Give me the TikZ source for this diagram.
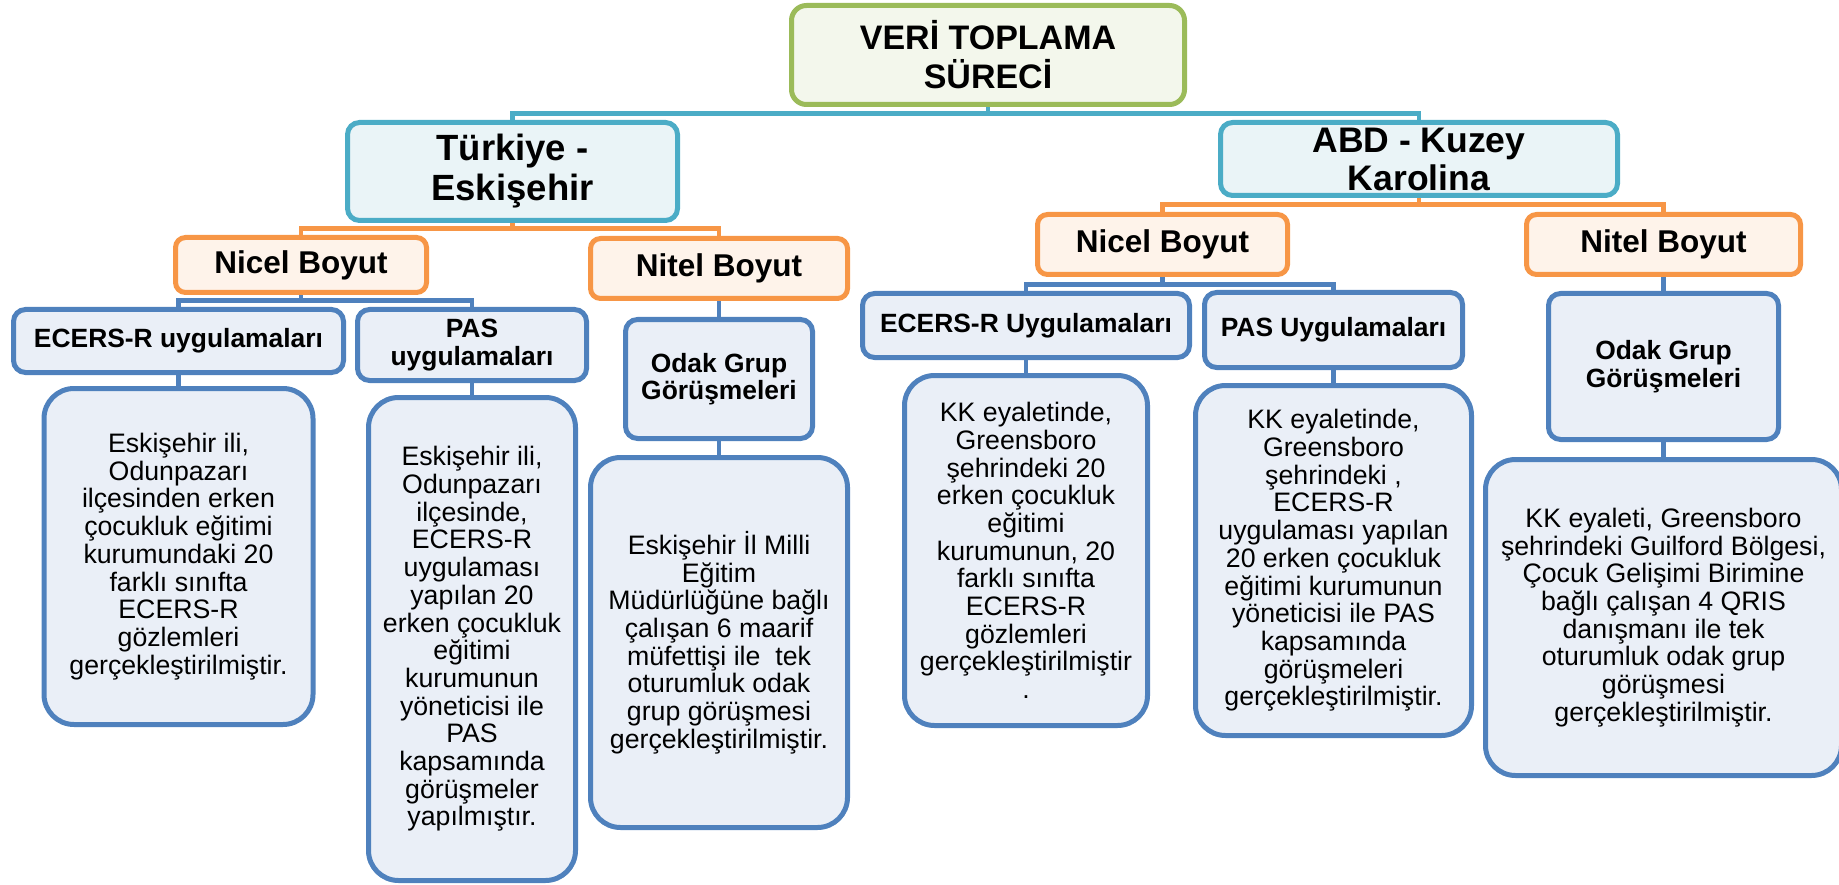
\documentclass[tikz,border=0pt]{standalone}
\usepackage{fontspec}
\setmainfont{Liberation Sans}
\usetikzlibrary{backgrounds}

\definecolor{grnline}{HTML}{9BBB59}
\definecolor{grnfill}{HTML}{F3F7EC}
\definecolor{cyanline}{HTML}{4BACC6}
\definecolor{cyanfill}{HTML}{EAF4F7}
\definecolor{orgline}{HTML}{F79646}
\definecolor{orgfill}{HTML}{FEF3EA}
\definecolor{bluline}{HTML}{4F81BD}
\definecolor{blufill}{HTML}{EAEFF7}

\newcommand{\bodysize}{\fontsize{26.7}{27.7}\selectfont}
\newcommand{\headsize}{\bfseries\fontsize{26.4}{27.5}\selectfont}

\begin{document}
\begin{tikzpicture}[x=1pt, y=-1pt, line width=5pt, inner sep=0pt,
    box/.style={draw, rounded corners=12pt, align=center},
    rootbox/.style={box, rounded corners=15pt, draw=grnline, fill=grnfill, font=\bfseries\fontsize{34}{39}\selectfont},
    landbox/.style={box, draw=cyanline, fill=cyanfill, font=\bfseries\fontsize{36.5}{40}\selectfont},
    dimbox/.style={box, rounded corners=10pt, draw=orgline, fill=orgfill, font=\bfseries\fontsize{31.5}{36}\selectfont},
    toolbox/.style={box, draw=bluline, fill=blufill, font=\headsize},
    textbox/.style={box, rounded corners=30pt, draw=bluline, fill=blufill, font=\bodysize},
    link/.style={line width=4.5pt}]
    \useasboundingbox (0,0) rectangle (1839,885);

    % Root
    \node[rootbox, minimum width=393, minimum height=99] (root) at (988,55) {VERİ TOPLAMA\\SÜRECİ};

    % Countries
    \node[landbox, minimum width=330, minimum height=98] (tr) at (512.5,171.5) {Türkiye -\\Eskişehir};
    \node[landbox, font=\bfseries\fontsize{35.5}{38}\selectfont, minimum width=397, minimum height=73] (us) at (1419,159) {ABD - Kuzey\\Karolina};

    % Dimensions
    \node[dimbox, minimum width=251, minimum height=55] (nicelL) at (301,265) {Nicel Boyut};
    \node[dimbox, minimum width=257, minimum height=60] (nitelL) at (719,268.5) {Nitel Boyut};
    \node[dimbox, minimum width=250, minimum height=60] (nicelR) at (1162.5,244.5) {Nicel Boyut};
    \node[dimbox, minimum width=274, minimum height=60] (nitelR) at (1663.5,244.5) {Nitel Boyut};

    % Tools
    \node[toolbox, minimum width=330, minimum height=63] (ecersL) at (178.5,341) {ECERS-R uygulamaları};
    \node[toolbox, minimum width=229, minimum height=71] (pasL) at (472,345) {PAS\\uygulamaları};
    \node[toolbox, minimum width=187, minimum height=119] (odakL) at (719,379) {Odak Grup\\Görüşmeleri};
    \node[toolbox, minimum width=327, minimum height=64] (ecersR) at (1026,325.5) {ECERS-R Uygulamaları};
    \node[toolbox, minimum width=258, minimum height=75] (pasR) at (1333.5,330) {PAS Uygulamaları};
    \node[toolbox, minimum width=230, minimum height=146] (odakR) at (1663.5,366.5) {Odak Grup\\Görüşmeleri};

    % Descriptions
    \node[textbox, minimum width=269, minimum height=336] (obsL) at (178.5,556.5) {Eskişehir ili,\\Odunpazarı\\ilçesinden erken\\çocukluk eğitimi\\kurumundaki 20\\farklı sınıfta\\ECERS-R\\gözlemleri\\gerçekleştirilmiştir.};
    \node[textbox, minimum width=207, minimum height=483] (intL) at (472,639) {Eskişehir ili,\\Odunpazarı\\ilçesinde,\\ECERS-R\\uygulaması\\yapılan 20\\erken çocukluk\\eğitimi\\kurumunun\\yöneticisi ile\\PAS\\kapsamında\\görüşmeler\\yapılmıştır.};
    \node[textbox, minimum width=257, minimum height=370] (focL) at (719,642.5) {Eskişehir İl Milli\\Eğitim\\Müdürlüğüne bağlı\\çalışan 6 maarif\\müfettişi ile \ tek\\oturumluk odak\\grup görüşmesi\\gerçekleştirilmiştir.};
    \node[textbox, minimum width=243, minimum height=350] (obsR) at (1026,550.5) {KK eyaletinde,\\Greensboro\\şehrindeki 20\\erken çocukluk\\eğitimi\\kurumunun, 20\\farklı sınıfta\\ECERS-R\\gözlemleri\\gerçekleştirilmiştir\\.};
    \node[textbox, minimum width=276, minimum height=350] (intR) at (1333.5,560.5) {KK eyaletinde,\\Greensboro\\şehrindeki ,\\ECERS-R\\uygulaması yapılan\\20 erken çocukluk\\eğitimi kurumunun\\yöneticisi ile PAS\\kapsamında\\görüşmeleri\\gerçekleştirilmiştir.};
    \node[textbox, minimum width=356, minimum height=316] (focR) at (1663.5,617.5) {KK eyaleti, Greensboro\\şehrindeki Guilford Bölgesi,\\Çocuk Gelişimi Birimine\\bağlı çalışan 4 QRIS\\danışmanı ile tek\\oturumluk odak grup\\görüşmesi\\gerçekleştirilmiştir.};

    % Connectors
    \begin{scope}[on background layer]
        \draw[link, cyanline] (root.south) -- ++(0,6.5) -| (tr.north);
        \draw[link, cyanline] (root.south) -- ++(0,6.5) -| (us.north);
        \draw[link, orgline] (tr.south) -- ++(0,5.5) -| (nicelL.north);
        \draw[link, orgline] (tr.south) -- ++(0,5.5) -| (nitelL.north);
        \draw[link, orgline] (us.south) -- ++(0,6.5) -| (nicelR.north);
        \draw[link, orgline] (us.south) -- ++(0,6.5) -| (nitelR.north);
        \draw[link, bluline] (nicelL.south) -- ++(0,5.5) -| (ecersL.north);
        \draw[link, bluline] (nicelL.south) -- ++(0,5.5) -| (pasL.north);
        \draw[link, bluline] (nicelR.south) -- ++(0,7.5) -| (ecersR.north);
        \draw[link, bluline] (nicelR.south) -- ++(0,7.5) -| (pasR.north);
        \draw[link, bluline] (nitelL.south) -- (odakL.north);
        \draw[link, bluline] (nitelR.south) -- (odakR.north);
        \draw[link, bluline] (ecersL.south) -- (obsL.north);
        \draw[link, bluline] (pasL.south) -- (intL.north);
        \draw[link, bluline] (odakL.south) -- (focL.north);
        \draw[link, bluline] (ecersR.south) -- (obsR.north);
        \draw[link, bluline] (pasR.south) -- (intR.north);
        \draw[link, bluline] (odakR.south) -- (focR.north);
    \end{scope}
\end{tikzpicture}
\end{document}
